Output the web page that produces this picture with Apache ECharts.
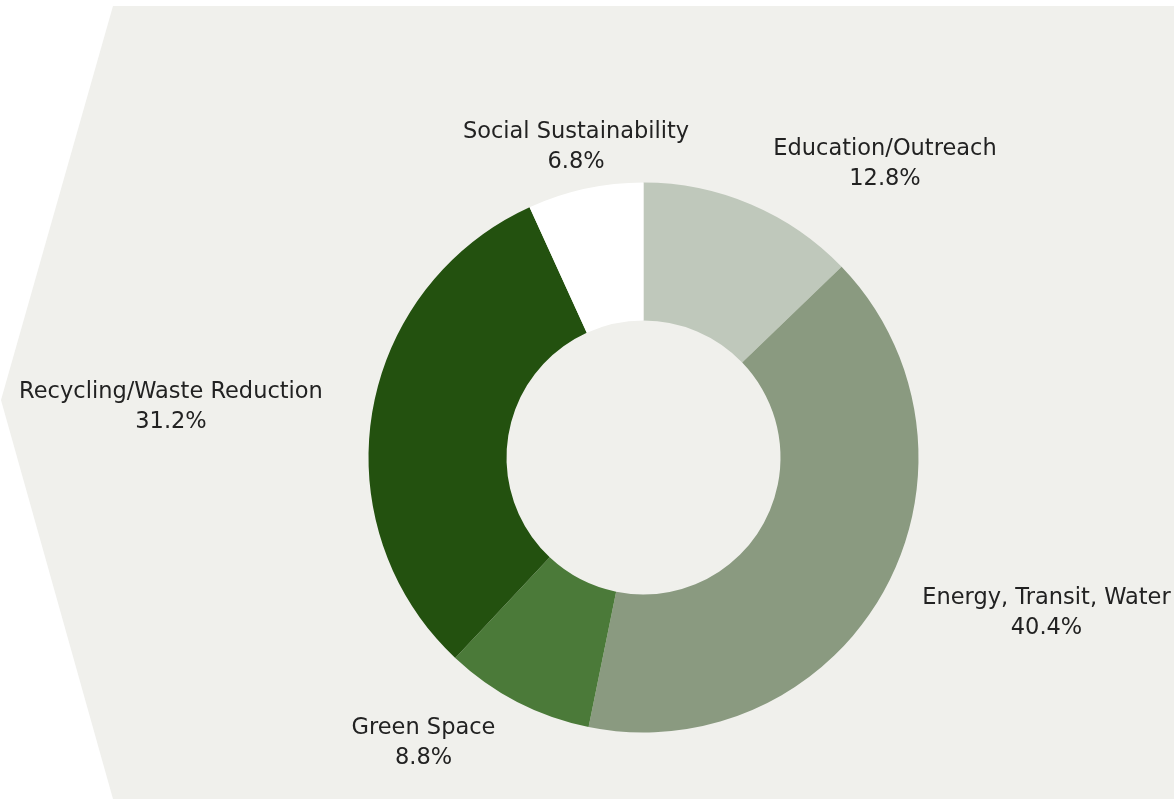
<!DOCTYPE html>
<html>
<head>
<meta charset="utf-8">
<script src="https://cdn.jsdelivr.net/npm/echarts@6/dist/echarts.min.js"></script>
<style>
  html, body { margin: 0; padding: 0; background: #ffffff; }
  #chart { width: 1174px; height: 799px; }
</style>
</head>
<body>
<div id="chart"></div>
<script>
// ---- data ----
const categories = ['Education/Outreach', 'Energy, Transit, Water', 'Green Space', 'Recycling/Waste Reduction', 'Social Sustainability'];
const shares = [12.8, 40.4, 8.8, 31.2, 6.8];

// ---- styling ----
const sliceColors = ['#bfc8bb', '#8a9a80', '#4b7a39', '#23510f', '#ffffff'];
const pieCenter = [643.5, 457.5];
// label block centre offsets from the pie centre (px)
const labelOffsets = [[241.5, -293], [403, 156], [-220, 285.5], [-472.5, -50.5], [-67.5, -310.5]];

const chart = echarts.init(document.getElementById('chart'), null, { renderer: 'canvas' });

const pieData = categories.map((name, i) => ({
  name: name,
  value: shares[i],
  itemStyle: { color: sliceColors[i] }
}));

chart.setOption({
  backgroundColor: '#ffffff',
  animation: false,
  graphic: [{
    type: 'polygon',
    z: -10,
    shape: { points: [[113, 6], [1174, 6], [1174, 799], [113, 799], [1, 400]] },
    style: { fill: '#f0f0ec' }
  }],
  series: [{
    type: 'pie',
    center: pieCenter,
    radius: [137, 275],
    startAngle: 90,
    clockwise: true,
    avoidLabelOverlap: false,
    data: pieData,
    label: {
      show: true,
      position: 'outside',
      color: '#222222',
      fontFamily: 'DejaVu Sans',
      fontSize: 22.5,
      lineHeight: 30,
      align: 'center',
      formatter: p => p.name + '\n' + p.value.toFixed(1) + '%'
    },
    labelLine: { show: false },
    labelLayout: function (p) {
      const o = labelOffsets[p.dataIndex];
      return {
        x: pieCenter[0] + o[0],
        y: pieCenter[1] + o[1],
        align: 'center',
        verticalAlign: 'middle'
      };
    },
    emphasis: { disabled: true }
  }]
});
</script>
</body>
</html>
